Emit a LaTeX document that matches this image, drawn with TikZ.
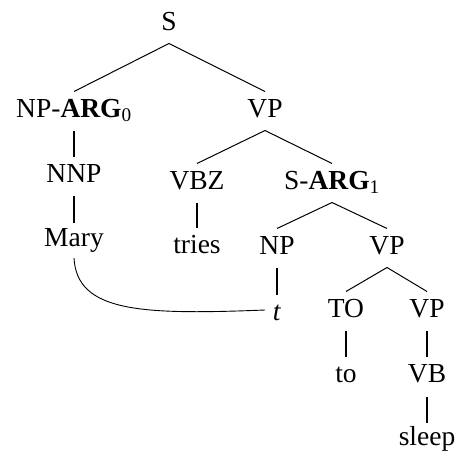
\documentclass[tikz,border=0pt]{standalone}
\usepackage{fontspec}
\setmainfont{Liberation Serif}
\begin{document}
\begin{tikzpicture}[x=1pt,y=-1pt,
  lbl/.style={anchor=base,inner sep=0pt,font=\fontsize{27.5}{32}\selectfont},
  branch/.style={line width=1pt},
  stem/.style={line width=1.6pt},
  every path/.style={line cap=butt}]
\useasboundingbox (0,0) rectangle (457,450);
% labels, placed on their baselines
\node[lbl] (S)    at (169,30)  {S};
\node[lbl] (NPa)  at (74,117)  {NP-\textbf{ARG}\textsubscript{0}};
\node[lbl] (VP1)  at (265,117) {VP};
\node[lbl] (NNP)  at (74,182)  {NNP};
\node[lbl] (VBZ)  at (197,189) {VBZ};
\node[lbl] (Sa)   at (332,189) {S-\textbf{ARG}\textsubscript{1}};
\node[lbl] (Mary) at (74,246)  {Mary};
\node[lbl] (tries) at (197,253) {tries};
\node[lbl] (NP)   at (277,254) {NP};
\node[lbl] (VP2)  at (387,254) {VP};
\node[lbl] (t)    at (277,320) {\textit{t}};
\node[lbl] (TO)   at (346,317) {TO};
\node[lbl] (VP3)  at (427,317) {VP};
\node[lbl] (to)   at (346,382) {to};
\node[lbl] (VB)   at (427,382) {VB};
\node[lbl] (sleep) at (427,445) {sleep};
% branching edges: from below the parent's baseline to above the child's capitals
\foreach \p/\c in {S/NPa,S/VP1,VP1/VBZ,VP1/Sa,Sa/NP,Sa/VP2,VP2/TO,VP2/VP3}
  \draw[branch] ([yshift=-13.5pt]\p.base) -- ([yshift=25.5pt]\c.base);
% unary edges
\foreach \p/\c in {NPa/NNP,VBZ/tries,NP/t,TO/to,VP3/VB}
  \draw[stem] ([yshift=-13.5pt]\p.base) -- ([yshift=25.5pt]\c.base);
\draw[stem] ([yshift=-13.5pt]NNP.base) -- ([yshift=23.5pt]Mary.base);
\draw[stem] ([yshift=-15pt]VB.base) -- ([yshift=22.5pt]sleep.base);
% trace link from the moved subject to its trace
\coordinate (mfoot) at ([yshift=-12pt]Mary.base);
\coordinate (tleft) at ([xshift=-12pt,yshift=10pt]t.base);
\draw[line width=0.9pt] (mfoot) .. controls +(3,54) and +(-125,5) .. (tleft);
\end{tikzpicture}
\end{document}
